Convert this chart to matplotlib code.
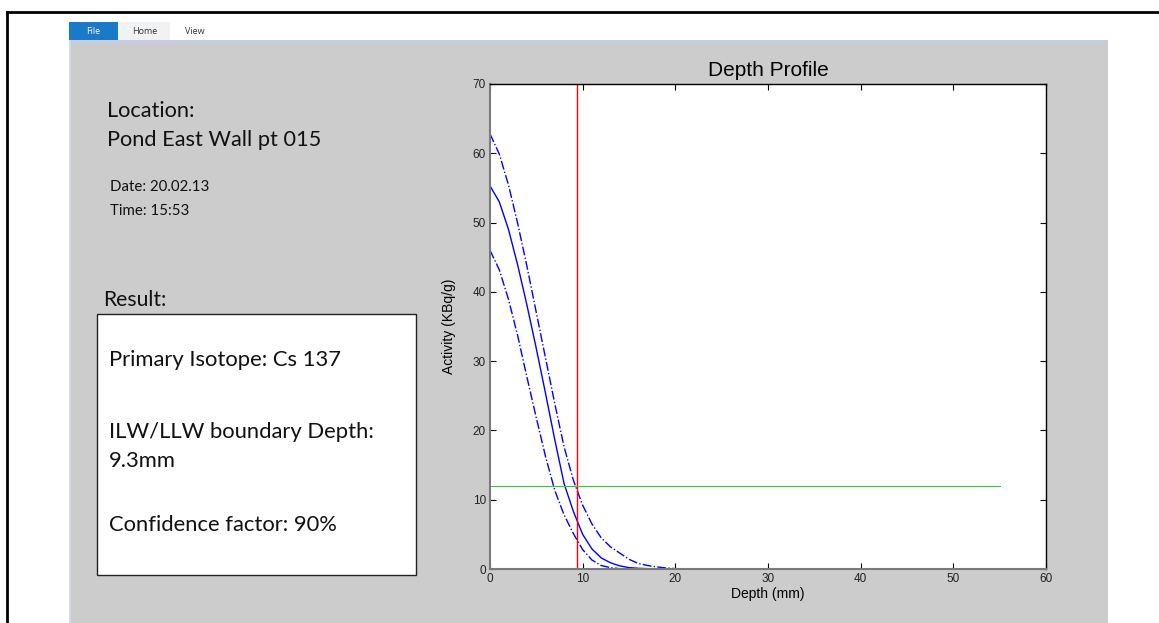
import matplotlib
matplotlib.use("Agg")
import matplotlib.pyplot as plt
from matplotlib.patches import Rectangle
from matplotlib.lines import Line2D

# ── DATA ─────────────────────────────────────────────────────────────
depth = [0, 1, 2, 3, 4, 5, 6, 7, 8, 9, 10, 11, 12, 13, 14, 15, 16, 17,
         18, 19, 20, 22, 25, 30, 35, 40, 45, 50, 55]
activity = [55.3, 53.0, 49.0, 43.8, 38.0, 31.8, 25.3, 18.6, 12.3, 8.3, 5.0,
            2.9, 1.6, 0.9, 0.45, 0.2, 0.1, 0.05, 0, 0, 0, 0, 0, 0, 0, 0, 0, 0, 0]
upper = [62.8, 59.9, 55.4, 49.8, 43.6, 37.0, 30.4, 23.8, 17.6, 12.8, 9.2,
         6.5, 4.5, 3.2, 2.3, 1.4, 0.8, 0.5, 0.3, 0.15, 0.05, 0, 0, 0, 0, 0, 0, 0, 0]
lower = [46.0, 43.2, 38.9, 33.6, 27.6, 21.8, 16.2, 11.3, 7.8, 5.1, 2.8,
         1.3, 0.5, 0.2, 0.05, 0, 0, 0, 0, 0, 0, 0, 0, 0, 0, 0, 0, 0, 0]
boundary_depth = 9.35
threshold = 12
threshold_range = [0, 55]

tabs = ['File', 'Home', 'View']
location = 'Pond East Wall pt 015'
date_str = '20.02.13'
time_str = '15:53'
isotope = 'Cs 137'
boundary_txt = '9.3mm'
confidence = '90%'

W, H = 1159, 623
fig = plt.figure(figsize=(W / 100, H / 100), dpi=100)
fig.patch.set_facecolor('white')


def fx(x):
    return x / W


def fy(y):
    return 1 - y / H


def rect(x0, y0, x1, y1, **kw):
    fig.add_artist(Rectangle((fx(x0), fy(y1)), fx(x1) - fx(x0), fy(y0) - fy(y1),
                             transform=fig.transFigure, **kw))


# ── WINDOW CHROME ────────────────────────────────────────────────────
fig.add_artist(Line2D([fx(7), fx(W)], [fy(12), fy(12)], color='black', lw=2,
                      transform=fig.transFigure))
fig.add_artist(Line2D([fx(7), fx(7)], [fy(12), fy(H)], color='black', lw=2,
                      transform=fig.transFigure))
rect(69, 40, 1108, H, facecolor='#cccccc', edgecolor='none')
rect(69, 40, 1108, 44, facecolor='#c6cddd', edgecolor='none')
rect(69, 40, 71, H, facecolor='#d4dae6', edgecolor='none')
rect(69, 22, 118, 40, facecolor='#1a79c9', edgecolor='none')
rect(118, 22, 170, 40, facecolor='#f1f2f4', edgecolor='none')
ui_font = ['Open Sans', 'DejaVu Sans']
fig.text(fx(93), fy(31), tabs[0], color='white', fontsize=6.5, ha='center',
         va='center', family=ui_font)
fig.text(fx(145), fy(32), tabs[1], color='#333333', fontsize=6.5, ha='center',
         va='center', family=ui_font)
fig.text(fx(195), fy(32), tabs[2], color='#333333', fontsize=6.5, ha='center',
         va='center', family=ui_font)

# ── LEFT INFO PANEL ──────────────────────────────────────────────────
txt_font = ['Lato', 'DejaVu Sans']
fig.text(fx(107), fy(111), 'Location:', fontsize=15.7, va='center',
         family=txt_font, color='#111111')
fig.text(fx(107), fy(140), location, fontsize=15.7, va='center',
         family=txt_font, color='#111111')
fig.text(fx(110), fy(187), f'Date: {date_str}', fontsize=10.8, va='center',
         family=txt_font, color='#111111')
fig.text(fx(110), fy(211), f'Time: {time_str}', fontsize=10.8, va='center',
         family=txt_font, color='#111111')
fig.text(fx(103), fy(300), 'Result:', fontsize=15.2, va='center',
         family=txt_font, color='#111111')
rect(97, 314, 416, 575, facecolor='white', edgecolor='#222222', lw=1)
fig.text(fx(109), fy(360), f'Primary Isotope: {isotope}', fontsize=15.8,
         va='center', family=txt_font, color='#111111')
fig.text(fx(109), fy(432), 'ILW/LLW boundary Depth:', fontsize=15.8,
         va='center', family=txt_font, color='#111111')
fig.text(fx(109), fy(461), boundary_txt, fontsize=15.8,
         va='center', family=txt_font, color='#111111')
fig.text(fx(109), fy(525), f'Confidence factor: {confidence}', fontsize=15.8,
         va='center', family=txt_font, color='#111111')

# ── DEPTH PROFILE AXES ───────────────────────────────────────────────
ax = fig.add_axes([fx(490), fy(569), fx(1046) - fx(490), fy(84) - fy(569)])
ax.set_zorder(5)
ax.set_facecolor('white')
ax.plot(depth, activity, color='blue', lw=1, ls='-')
ax.plot(depth, upper, color='blue', lw=1, ls='-.')
ax.plot(depth, lower, color='blue', lw=1, ls='-.')
ax.axvline(boundary_depth, color='red', lw=1)
ax.plot(threshold_range, [threshold, threshold], color='#2ecc2e', lw=0.8)

ax.set_xlim(0, 60)
ax.set_ylim(0, 70)
ax.set_xticks(range(0, 61, 10))
ax.set_yticks(range(0, 71, 10))
ax.tick_params(direction='in', length=4, top=True, right=True,
               labelsize=8.5, labelcolor='#222222', pad=3)
for lbl in ax.get_xticklabels() + ax.get_yticklabels():
    lbl.set_family(['Liberation Sans', 'DejaVu Sans'])
for side in ['left', 'bottom']:
    ax.spines[side].set_color('#7a7a7a')
    ax.spines[side].set_linewidth(1.5)
for side in ['top', 'right']:
    ax.spines[side].set_color('black')
    ax.spines[side].set_linewidth(1)

ax.set_title('Depth Profile', fontsize=15, pad=6,
             family=['Liberation Sans', 'DejaVu Sans'])
ax.set_xlabel('Depth (mm)', fontsize=10, labelpad=1,
              family=['Liberation Sans', 'DejaVu Sans'])
ax.set_ylabel('Activity (KBq/g)', fontsize=10, labelpad=12,
              family=['Liberation Sans', 'DejaVu Sans'])

fig.savefig('out.png', dpi=100, facecolor=fig.get_facecolor())
